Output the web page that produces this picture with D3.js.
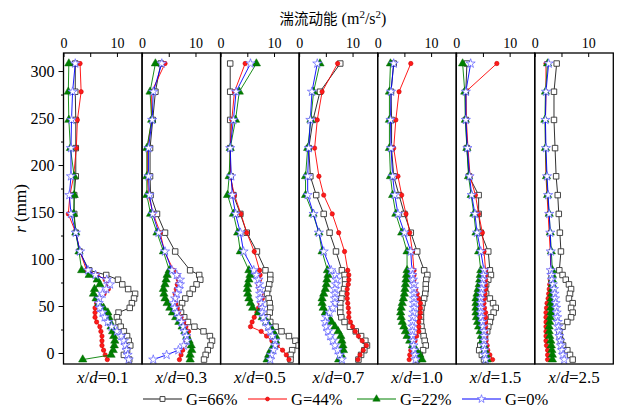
<!DOCTYPE html>
<html>
<head>
<meta charset="utf-8">
<script src="https://cdn.jsdelivr.net/npm/d3@7"></script>
<style>
  html, body { margin: 0; padding: 0; background: #fff; }
</style>
</head>
<body>
<div id="chart"></div>
<script>
// Axial stations (one panel each)
const stations = ["0.1", "0.3", "0.5", "0.7", "1.0", "1.5", "2.5"];

// Radial positions of the measurement points (mm)
const radii = [308, 278, 248, 218, 188, 168, 148, 128, 108, 88,
  83, 78, 73, 68, 63, 58, 53, 48, 43, 38, 33, 28, 23, 18, 13, 8, 3, -2, -7];

// Turbulent kinetic energy (m²/s²), one row per station, aligned with radii
const tkeG66 = [
  [2.2, 2.2, 2.3, 2.3, 2.3, 2.0, 2.0, 2.3, 3.0, 4.8, 8.0, 10.2, 11.0, 12.1, 13.4, 13.2, 12.8, 12.4, 10.3, 10.0, 10.3, 10.7, 11.3, 11.9, 12.2, 12.5, 11.9, 11.3, 12.3],
  [3.5, 2.5, 2.0, 1.5, 1.5, 1.6, 2.8, 4.3, 6.2, 9.0, 10.7, 10.9, 10.2, 9.5, 8.9, 8.1, 7.5, 7.1, 7.3, 7.9, 8.6, 9.8, 11.5, 12.7, 13.1, 12.8, 12.3, 11.9, 11.6],
  [1.8, 1.8, 1.8, 1.8, 1.9, 2.4, 3.7, 4.9, 6.8, 8.4, 9.3, 9.3, 9.1, 8.9, 8.7, 9.0, 9.2, 9.3, 9.2, 8.8, 9.3, 10.3, 11.4, 12.8, 14.0, 14.6, 13.4, 13.1, 13.1],
  [7.7, 3.9, 2.6, 1.8, 2.1, 3.2, 4.6, 5.7, 6.9, 8.0, 8.5, 8.6, 8.6, 8.4, 8.1, 7.9, 7.7, 7.7, 7.7, 7.9, 8.5, 9.5, 10.6, 11.6, 12.4, 12.7, 12.2, 11.6, 11.1],
  [3.0, 2.5, 2.6, 2.6, 3.0, 4.0, 5.0, 6.2, 7.4, 8.7, 9.3, 9.1, 9.0, 9.0, 8.9, 8.7, 8.4, 8.2, 8.1, 8.1, 8.1, 8.2, 8.4, 8.6, 8.8, 9.0, 8.5, 7.9, 7.4],
  [2.0, 1.8, 1.8, 2.0, 2.4, 4.2, 4.2, 4.6, 6.0, 6.3, 6.5, 6.0, 5.6, 5.4, 5.6, 6.3, 6.9, 7.4, 7.0, 6.5, 6.3, 6.0, 5.8, 5.4, 4.9, 4.5, 4.3, 4.8, 5.2],
  [4.1, 3.6, 3.6, 3.8, 4.0, 4.3, 4.5, 4.7, 4.9, 4.6, 5.2, 5.8, 6.4, 6.8, 6.6, 6.4, 7.1, 6.8, 7.1, 6.8, 6.1, 5.2, 4.6, 4.7, 4.9, 5.3, 6.1, 6.6, 7.1]
];
const tkeG44 = [
  [3.1, 3.3, 2.6, 2.4, 1.9, 1.2, 0.9, 2.3, 3.1, 4.3, 6.3, 7.8, 8.4, 8.4, 7.6, 6.7, 6.2, 5.9, 5.9, 5.9, 6.2, 6.8, 7.0, 7.2, 7.2, 7.2, 7.5, 7.8, 8.2],
  [4.3, 1.8, 1.8, 1.0, 1.0, 1.2, 2.1, 3.4, 4.2, 5.9, 6.6, 6.8, 6.6, 6.4, 6.2, 6.2, 6.3, 6.6, 6.8, 7.3, 7.8, 8.2, 8.7, 8.6, 8.3, 7.9, 7.6, 7.3, 7.0],
  [4.6, 2.6, 2.1, 1.8, 1.8, 2.6, 3.8, 4.9, 6.3, 7.3, 7.4, 7.3, 7.1, 7.3, 7.6, 7.8, 7.4, 7.1, 6.8, 6.3, 5.9, 5.6, 7.6, 8.6, 9.6, 10.6, 11.6, 12.3, 12.8],
  [7.2, 4.3, 3.4, 2.9, 3.7, 4.6, 6.2, 7.4, 8.5, 9.1, 9.3, 9.3, 9.2, 9.0, 9.0, 9.0, 9.1, 9.2, 9.3, 9.3, 9.6, 10.0, 10.5, 11.1, 11.8, 12.6, 12.0, 11.4, 11.0],
  [6.2, 4.0, 3.4, 3.0, 3.8, 4.5, 5.3, 6.0, 6.5, 6.8, 6.8, 6.8, 6.8, 7.1, 7.4, 7.7, 8.0, 8.0, 8.0, 7.9, 7.7, 7.7, 7.7, 7.3, 7.0, 6.6, 6.2, 6.0, 5.9],
  [7.6, 1.8, 1.9, 2.2, 2.6, 3.6, 4.2, 4.9, 5.2, 5.5, 5.5, 5.5, 5.5, 5.5, 5.4, 5.3, 5.2, 5.3, 5.5, 5.5, 5.5, 5.5, 5.5, 5.5, 5.6, 5.8, 5.9, 6.3, 6.8],
  [2.1, 2.1, 2.0, 2.0, 2.1, 2.3, 2.5, 2.7, 2.9, 3.0, 3.0, 2.9, 2.8, 2.7, 2.6, 2.5, 2.3, 2.2, 2.1, 2.1, 2.1, 2.1, 2.1, 2.1, 2.1, 2.2, 2.4, 2.4, 2.4]
];
const tkeG22 = [
  [1.0, 0.9, 1.0, 1.3, 2.0, 2.0, 1.9, 2.3, 2.9, 3.4, 4.8, 6.3, 6.8, 5.8, 5.6, 6.1, 6.6, 7.5, 8.3, 8.5, 8.7, 8.9, 9.2, 9.4, 9.6, 9.5, 9.3, 8.9, 3.6],
  [2.5, 1.5, 1.8, 0.9, 0.9, 0.9, 1.6, 2.8, 4.0, 5.1, 4.7, 4.5, 4.3, 4.0, 4.1, 4.3, 4.7, 5.2, 5.7, 6.3, 6.9, 7.5, 8.0, 8.4, 8.8, 9.2, 9.3, 9.0, 9.0],
  [6.7, 3.5, 2.8, 1.8, 1.6, 1.3, 2.4, 3.2, 3.7, 5.3, 5.5, 5.3, 5.1, 5.0, 5.1, 5.3, 5.6, 6.0, 7.1, 7.8, 8.6, 9.2, 9.8, 10.3, 10.3, 10.0, 9.4, 9.0, 8.7],
  [3.9, 2.7, 2.2, 1.6, 1.2, 1.2, 2.6, 3.7, 4.3, 5.3, 5.4, 5.2, 5.1, 4.9, 4.6, 4.3, 4.3, 4.5, 4.9, 5.5, 6.1, 6.7, 7.3, 7.8, 8.0, 8.2, 8.3, 7.9, 7.4],
  [2.4, 2.2, 2.2, 2.2, 2.4, 2.8, 3.4, 4.5, 5.5, 5.5, 5.4, 5.3, 5.2, 5.1, 5.0, 4.8, 4.6, 4.4, 4.3, 4.4, 4.6, 4.9, 5.2, 5.5, 6.0, 6.5, 7.2, 7.9, 8.3],
  [1.2, 1.6, 1.7, 2.0, 2.3, 2.8, 3.3, 3.7, 4.2, 4.6, 4.5, 4.4, 4.3, 4.1, 3.9, 3.7, 3.7, 3.7, 3.7, 3.8, 4.0, 4.2, 4.5, 4.7, 4.9, 5.2, 5.4, 5.6, 5.8],
  [2.4, 2.0, 1.9, 2.0, 2.2, 2.4, 2.7, 2.9, 3.1, 3.3, 3.3, 3.3, 3.3, 3.3, 3.2, 3.1, 3.0, 3.0, 3.0, 2.9, 2.8, 2.7, 2.7, 2.8, 3.0, 3.1, 3.2, 3.3, 3.3]
];
const tkeG0 = [
  [2.2, 1.7, 1.5, 1.4, 1.4, 1.1, 1.4, 2.3, 3.1, 4.6, 6.0, 8.1, 8.7, 8.0, 7.3, 6.7, 6.6, 6.8, 7.3, 7.7, 8.3, 9.0, 10.0, 10.8, 11.3, 11.6, 11.8, 12.0, 12.2],
  [3.7, 2.1, 1.9, 1.2, 1.2, 1.4, 2.0, 3.1, 4.3, 5.6, 6.5, 7.1, 7.1, 6.9, 6.5, 6.2, 5.9, 6.1, 6.5, 6.9, 7.4, 7.7, 8.0, 8.3, 8.4, 7.8, 6.8, 4.6, 2.1],
  [5.6, 2.9, 2.4, 1.8, 2.0, 2.2, 2.8, 3.7, 4.3, 6.2, 6.7, 7.1, 7.2, 7.4, 7.4, 7.4, 7.6, 7.8, 7.8, 8.0, 8.4, 8.9, 9.3, 9.7, 10.2, 10.2, 9.9, 9.5, 9.3],
  [3.4, 2.4, 2.1, 1.8, 1.6, 1.6, 2.7, 3.7, 4.6, 6.0, 6.8, 7.0, 6.9, 6.7, 6.7, 6.7, 6.7, 6.3, 5.7, 5.1, 4.9, 5.1, 5.4, 5.8, 6.3, 6.7, 7.2, 7.6, 8.0],
  [3.0, 2.5, 2.4, 2.5, 2.8, 3.2, 3.8, 5.0, 6.2, 6.4, 6.5, 6.6, 6.8, 6.8, 6.8, 6.8, 6.8, 6.8, 6.7, 6.6, 6.5, 6.5, 6.5, 6.5, 6.6, 6.7, 6.8, 7.0, 7.1],
  [2.7, 1.8, 1.8, 2.1, 2.5, 2.9, 3.5, 3.9, 4.6, 5.2, 5.1, 5.0, 4.9, 4.8, 4.7, 4.6, 4.6, 4.6, 4.6, 4.7, 4.9, 5.0, 5.2, 5.2, 5.2, 5.2, 5.3, 5.4, 5.5],
  [2.6, 2.1, 2.0, 2.1, 2.3, 2.5, 2.7, 2.9, 3.0, 3.0, 3.1, 3.2, 3.4, 3.6, 3.7, 3.8, 3.9, 4.0, 4.1, 4.2, 4.3, 4.4, 4.5, 4.6, 4.8, 4.9, 5.1, 5.3, 5.5]
];

const seriesNames = ["G=66%", "G=44%", "G=22%", "G=0%"];
const topTicks = [0, 5, 10];
const topTickLabels = ["0", "", "10"];
const rTicks = [0, 50, 100, 150, 200, 250, 300];
const rMinorTicks = [25, 75, 125, 175, 225, 275];

const SERIF = "'Liberation Serif', 'Times New Roman', Times, 'DejaVu Serif', serif";
const CJK = "'Noto Sans CJK SC', 'Noto Sans CJK JP', sans-serif";

const W = 618, H = 410;
const plotLeft = 63.5, plotRight = 613.3, plotTop = 53, plotBottom = 364;
const panelW = (plotRight - plotLeft) / stations.length;

const svg = d3.select("#chart").append("svg")
  .attr("width", W).attr("height", H)
  .style("font-family", SERIF);

const y = d3.scaleLinear().domain([-11.7, 319.2]).range([plotBottom, plotTop]);

// series styling: line colour, marker shape, marker fill/stroke
const styles = [
  { line: "#1a1a1a", symbol: d3.symbolSquare, size: 30, fill: "#fff", stroke: "#333", sw: 0.9 },
  { line: "#ff0000", symbol: d3.symbolCircle, size: 15, fill: "#ff1a1a", stroke: "#d00000", sw: 0.6 },
  { line: "#008000", symbol: d3.symbolTriangle, size: 30, fill: "#008000", stroke: "#006400", sw: 0.5 },
  { line: "#0000ff", symbol: d3.symbolStar, size: 26, fill: "#fff", stroke: "#5a5aff", sw: 0.7 }
];
const allSeries = [tkeG66, tkeG44, tkeG22, tkeG0];

stations.forEach((st, i) => {
  const x0 = plotLeft + i * panelW;
  const x = d3.scaleLinear().domain([0, 14.7]).range([x0, x0 + panelW]);
  const g = svg.append("g");

  // clip so marks stay inside the panel frame
  const clipId = "clip" + i;
  svg.append("clipPath").attr("id", clipId).append("rect")
    .attr("x", x0).attr("y", plotTop).attr("width", panelW).attr("height", plotBottom - plotTop);
  const marks = g.append("g").attr("clip-path", `url(#${clipId})`);

  allSeries.forEach((series, s) => {
    const sty = styles[s];
    const pts = radii.map((r, k) => [series[i][k], r]);
    marks.append("path")
      .datum(pts)
      .attr("fill", "none")
      .attr("stroke", sty.line)
      .attr("stroke-width", 0.9)
      .attr("d", d3.line().x(d => x(d[0])).y(d => y(d[1])));
    const sym = d3.symbol().type(sty.symbol).size(sty.size);
    marks.selectAll(null).data(pts).enter().append("path")
      .attr("transform", d => `translate(${x(d[0])},${y(d[1])})`)
      .attr("d", sym)
      .attr("fill", sty.fill)
      .attr("stroke", sty.stroke)
      .attr("stroke-width", sty.sw);
  });

  // top axis: ticks point into the panel
  const topAxis = d3.axisTop(x).tickValues(topTicks)
    .tickFormat((d, k) => topTickLabels[k])
    .tickSizeInner(-4).tickSizeOuter(0).tickPadding(5);
  const ta = g.append("g").attr("transform", `translate(0,${plotTop})`).call(topAxis);
  ta.attr("font-family", null).attr("font-size", null);
  ta.select(".domain").remove();
  ta.selectAll("line").attr("stroke", "#000").attr("stroke-width", 1);
  ta.selectAll("text").style("font-family", SERIF).style("font-size", "14px");

  // panel frame
  g.append("rect")
    .attr("x", x0).attr("y", plotTop)
    .attr("width", panelW).attr("height", plotBottom - plotTop)
    .attr("fill", "none").attr("stroke", "#000").attr("stroke-width", 1.3);

  // station label under the panel
  const lab = g.append("text")
    .attr("x", x0 + panelW / 2).attr("y", 383)
    .attr("text-anchor", "middle")
    .style("font-family", SERIF).style("font-size", "17px");
  lab.append("tspan").attr("font-style", "italic").text("x");
  lab.append("tspan").text("/");
  lab.append("tspan").attr("font-style", "italic").text("d");
  lab.append("tspan").text("=" + st);
});

// left radial axis
const leftAxis = d3.axisLeft(y).tickValues(rTicks).tickSize(5).tickPadding(4);
const la = svg.append("g").attr("transform", `translate(${plotLeft},0)`).call(leftAxis);
la.attr("font-family", null).attr("font-size", null);
la.select(".domain").remove();
la.selectAll("line").attr("stroke", "#000").attr("stroke-width", 1);
la.selectAll("text").style("font-family", SERIF).style("font-size", "16px");
const minorAxis = d3.axisLeft(y).tickValues(rMinorTicks).tickSize(2.5).tickFormat("");
const ma = svg.append("g").attr("transform", `translate(${plotLeft},0)`).call(minorAxis);
ma.select(".domain").remove();
ma.selectAll("line").attr("stroke", "#000").attr("stroke-width", 1);

// axis titles
const yTitle = svg.append("text")
  .attr("transform", `translate(26,${(plotTop + plotBottom) / 2}) rotate(-90)`)
  .attr("text-anchor", "middle")
  .style("font-family", SERIF).style("font-size", "17px");
yTitle.append("tspan").attr("font-style", "italic").text("r");
yTitle.append("tspan").text(" (mm)");

const xTitle = svg.append("text")
  .attr("x", 333).attr("y", 24)
  .attr("text-anchor", "middle")
  .style("font-family", SERIF).style("font-size", "16px");
xTitle.append("tspan").style("font-family", CJK).style("font-size", "14.5px").text("湍流动能");
xTitle.append("tspan").text(" (m");
xTitle.append("tspan").style("font-size", "11px").attr("dy", -6).text("2");
xTitle.append("tspan").attr("dy", 6).text("/s");
xTitle.append("tspan").style("font-size", "11px").attr("dy", -6).text("2");
xTitle.append("tspan").attr("dy", 6).text(")");

// legend
const legendX = [143, 248, 357, 462];
const legend = svg.append("g");
seriesNames.forEach((name, s) => {
  const sty = styles[s];
  const lx = legendX[s], ly = 399;
  legend.append("line")
    .attr("x1", lx).attr("x2", lx + 39).attr("y1", ly).attr("y2", ly)
    .attr("stroke", sty.line).attr("stroke-width", 1);
  legend.append("path")
    .attr("transform", `translate(${lx + 19.5},${ly})`)
    .attr("d", d3.symbol().type(sty.symbol).size(sty.size * 0.8))
    .attr("fill", sty.fill).attr("stroke", sty.stroke).attr("stroke-width", sty.sw);
  legend.append("text")
    .attr("x", lx + 43).attr("y", ly + 5.5)
    .style("font-family", SERIF).style("font-size", "16.5px")
    .text(name);
});
</script>
</body>
</html>
